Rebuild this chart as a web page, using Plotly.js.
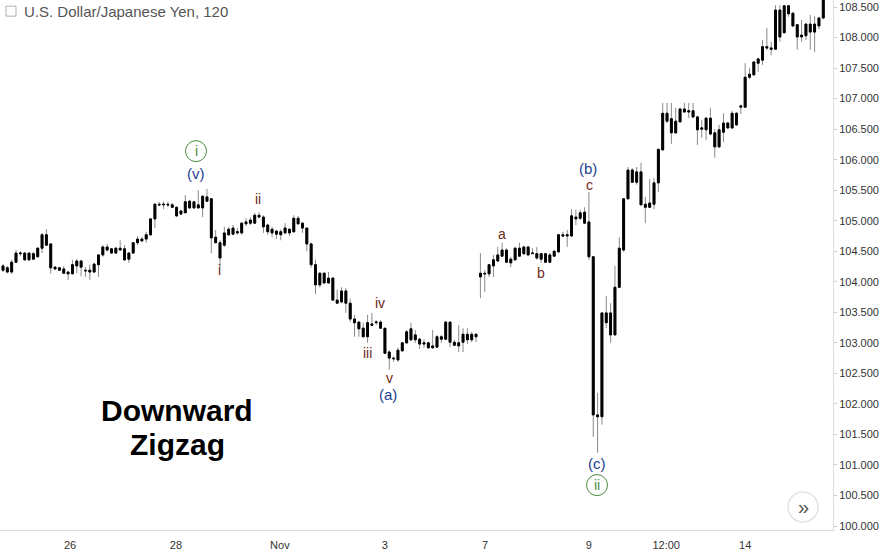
<!DOCTYPE html>
<html>
<head>
<meta charset="utf-8">
<script src="https://cdn.plot.ly/plotly-3.0.1.min.js"></script>
<style>
html,body{margin:0;padding:0;background:#fff;}
#chart{width:879px;height:555px;}
</style>
</head>
<body>
<div id="chart"></div>
<script>
// USD/JPY, 120-minute candles
const open = [
104.26,104.23,104.16,104.32,104.46,104.47,104.36,104.46,104.41,104.55,
104.77,104.62,104.24,104.19,104.21,104.16,104.13,104.26,104.34,104.19,
104.19,104.16,104.28,104.44,104.57,104.54,104.47,104.55,104.54,104.37,
104.47,104.64,104.70,104.70,104.77,105.03,105.27,105.26,105.27,105.26,
105.22,105.11,105.13,105.32,105.21,105.26,105.21,105.39,105.36,104.73,
104.64,104.60,104.77,104.88,104.80,104.80,104.95,104.96,104.96,105.09,
105.06,104.93,104.86,104.83,104.77,104.80,104.86,104.82,105.04,104.96,
104.88,104.62,104.28,103.95,104.14,103.98,104.06,103.70,103.67,103.85,
103.65,103.39,103.34,103.24,103.10,103.31,103.33,103.34,103.24,102.85,
102.75,102.72,102.87,103.00,103.23,103.05,103.06,102.98,103.00,102.92,
102.93,103.10,103.06,103.34,103.01,102.95,103.01,103.14,103.05,103.14,
104.08,104.14,104.13,104.26,104.34,104.42,104.52,104.31,104.36,104.55,
104.46,104.57,104.46,104.46,104.37,104.46,104.32,104.42,104.49,104.77,
104.75,104.75,105.06,105.04,104.96,104.98,104.41,101.82,101.79,103.49,
103.49,103.13,103.91,104.52,105.36,105.83,105.63,105.80,105.27,105.22,
105.27,105.62,106.16,106.76,106.67,106.44,106.62,106.83,106.78,106.80,
106.70,106.50,106.49,106.68,106.44,106.21,106.45,106.60,106.52,106.76,
106.86,106.86,107.35,107.39,107.58,107.63,107.85,107.83,107.81,108.45,
108.08,108.52,108.40,108.21,108.04,108.03,108.22,108.09,108.19,108.32
];
const high = [
104.29,104.26,104.36,104.52,104.50,104.49,104.47,104.49,104.57,104.80,
104.86,104.62,104.26,104.24,104.26,104.18,104.36,104.37,104.36,104.24,
104.28,104.31,104.44,104.60,104.62,104.55,104.57,104.68,104.60,104.49,
104.65,104.75,104.73,104.82,105.04,105.29,105.31,105.31,105.31,105.29,
105.24,105.18,105.42,105.34,105.32,105.50,105.42,105.52,105.37,104.85,
104.68,104.90,104.90,104.93,104.88,104.98,105.04,105.06,105.13,105.14,
105.09,104.95,104.90,104.85,104.86,104.96,104.88,105.09,105.08,104.98,
104.88,104.64,104.36,104.16,104.16,104.16,104.08,103.87,103.91,103.90,
103.72,103.46,103.34,103.33,103.46,103.49,103.37,103.37,103.24,102.88,
102.78,102.92,103.01,103.21,103.33,103.21,103.08,103.06,103.01,103.21,
103.13,103.13,103.36,103.34,103.05,103.29,103.24,103.24,103.18,103.16,
104.47,104.19,104.29,104.44,104.57,104.64,104.55,104.41,104.57,104.64,
104.59,104.59,104.55,104.57,104.47,104.47,104.47,104.52,104.78,104.82,
104.85,105.19,105.18,105.18,105.22,105.47,104.41,102.18,103.49,103.77,
103.65,104.26,104.73,105.36,105.88,105.86,105.88,105.95,105.39,105.68,
105.70,106.17,106.93,106.93,106.93,106.85,106.85,106.93,106.93,106.93,
106.72,106.65,106.70,106.85,106.50,106.57,106.76,106.62,106.80,106.78,
106.90,107.58,107.50,107.62,107.67,107.96,108.16,107.93,108.53,108.53,
108.53,108.53,108.40,108.21,108.29,108.24,108.37,108.35,108.34,108.70
];
const low = [
104.16,104.14,104.13,104.31,104.42,104.34,104.34,104.37,104.39,104.47,
104.60,104.13,104.19,104.18,104.13,104.03,104.13,104.14,104.09,104.08,
104.03,104.14,104.08,104.41,104.50,104.46,104.46,104.52,104.34,104.31,
104.46,104.60,104.65,104.64,104.75,104.88,105.24,105.19,105.22,105.21,
105.06,105.09,105.13,105.19,105.19,105.21,105.06,105.32,104.47,104.64,
104.24,104.57,104.75,104.77,104.77,104.77,104.91,104.93,104.95,105.04,
104.80,104.77,104.73,104.70,104.68,104.78,104.75,104.80,104.93,104.80,
104.50,104.23,103.80,103.91,103.98,103.98,103.69,103.64,103.65,103.49,
103.34,103.10,103.10,103.10,103.00,103.28,103.29,103.23,102.83,102.56,
102.69,102.69,102.85,102.98,103.03,103.00,102.90,102.92,102.90,102.90,
102.92,103.00,103.05,102.93,102.95,102.85,102.85,102.98,103.01,103.01,
103.73,103.83,104.08,104.08,104.32,104.41,104.31,104.24,104.34,104.41,
104.44,104.42,104.46,104.36,104.31,104.31,104.31,104.41,104.47,104.73,
104.57,104.75,104.93,105.01,104.96,104.36,101.46,101.20,101.66,103.24,
103.00,103.13,103.90,104.49,105.34,105.62,105.59,105.26,104.96,105.22,
105.19,105.47,106.16,106.60,106.26,106.42,106.60,106.78,106.68,106.68,
106.24,106.36,106.32,106.40,106.03,106.19,106.29,106.50,106.50,106.55,
106.75,106.86,107.32,107.37,107.44,107.55,107.80,107.71,107.80,107.93,
108.06,108.34,108.17,107.80,107.93,107.96,107.80,107.76,108.14,108.30
];
const close = [
104.19,104.16,104.32,104.47,104.47,104.36,104.47,104.37,104.55,104.77,
104.60,104.23,104.21,104.23,104.14,104.13,104.28,104.34,104.24,104.18,
104.16,104.29,104.44,104.57,104.52,104.47,104.55,104.52,104.36,104.47,
104.64,104.70,104.67,104.77,105.03,105.27,105.26,105.27,105.26,105.22,
105.08,105.16,105.31,105.21,105.31,105.21,105.40,105.32,104.72,104.64,
104.39,104.80,104.86,104.78,104.82,104.96,104.98,105.01,105.09,105.06,
104.90,104.82,104.80,104.78,104.82,104.88,104.80,105.04,104.95,104.88,
104.62,104.28,103.95,104.14,103.98,104.06,103.70,103.65,103.85,103.65,
103.39,103.33,103.23,103.10,103.33,103.29,103.34,103.24,102.83,102.75,
102.74,102.88,103.00,103.18,103.05,103.13,102.98,103.00,102.92,102.95,
103.10,103.06,103.34,103.01,102.96,103.00,103.14,103.05,103.14,103.10,
104.14,104.13,104.28,104.36,104.44,104.52,104.32,104.37,104.55,104.42,
104.57,104.44,104.47,104.39,104.46,104.32,104.44,104.50,104.77,104.75,
104.77,105.08,105.03,105.13,105.14,104.41,101.82,101.79,103.49,103.33,
103.13,103.91,104.55,105.36,105.83,105.63,105.80,105.26,105.22,105.29,
105.62,106.17,106.76,106.63,106.44,106.63,106.83,106.78,106.80,106.70,
106.49,106.52,106.68,106.42,106.21,106.49,106.60,106.52,106.76,106.57,
106.88,107.35,107.40,107.60,107.65,107.85,107.83,107.81,108.45,108.01,
108.52,108.39,108.19,108.01,108.01,108.22,108.09,108.22,108.32,108.66
];

// time-axis labels (candle slot where each label sits)
const xTickSlots = [15.44, 39.86, 63.8, 88.0, 111.1, 135.0, 152.8, 171.0];
const xTickLabels = ['26', '28', 'Nov', '3', '7', '9', '12:00', '14'];

// price-axis labels
const yTickValues = [100, 100.5, 101, 101.5, 102, 102.5, 103, 103.5, 104,
                     104.5, 105, 105.5, 106, 106.5, 107, 107.5, 108, 108.5];
const yTickLabels = yTickValues.map(v => v.toFixed(3));

// Elliott wave labels: [text, slot, price, kind]
const waveLabels = [
  ['i', 44.47, 106.14, 'green'],
  ['(v)', 44.47, 105.77, 'blue'],
  ['i', 49.77, 104.19, 'brown'],
  ['ii', 58.76, 105.36, 'brown'],
  ['iv', 86.87, 103.65, 'brown'],
  ['iii', 83.87, 102.83, 'brown'],
  ['v', 88.94, 102.42, 'brown'],
  ['(a)', 88.71, 102.16, 'blue'],
  ['a', 114.98, 104.78, 'brown'],
  ['b', 123.96, 104.14, 'brown'],
  ['(b)', 134.79, 105.86, 'blue'],
  ['c', 135.02, 105.585, 'brown'],
  ['(c)', 136.87, 101.03, 'blue'],
  ['ii', 136.87, 100.67, 'green']
];

const xs = open.map((_, i) => i);
const bodyHigh = open.map((o, i) => Math.max(o, close[i]));
const bodyLow = open.map((o, i) => Math.min(o, close[i]));

const FONT = 'Liberation Sans, Arial, Helvetica, sans-serif';
const colors = {green: '#4e8b3d', blue: '#1d3f91', brown: '#6e2a1c'};

const wick = {
  type: 'candlestick', x: xs, open: open, high: high, low: low, close: close,
  increasing: {line: {color: '#8a8a8a', width: 1}, fillcolor: '#8a8a8a'},
  decreasing: {line: {color: '#8a8a8a', width: 1}, fillcolor: '#8a8a8a'},
  whiskerwidth: 0, hoverinfo: 'skip', showlegend: false
};
const body = {
  type: 'candlestick', x: xs, open: open, high: bodyHigh, low: bodyLow, close: close,
  increasing: {line: {color: '#000', width: 1}, fillcolor: '#000'},
  decreasing: {line: {color: '#000', width: 1}, fillcolor: '#000'},
  whiskerwidth: 0, hoverinfo: 'skip', showlegend: false
};

const annotations = [];
const shapes = [];
waveLabels.forEach(([t, x, y, kind]) => {
  annotations.push({
    text: t, x: x, y: y, xref: 'x', yref: 'y', showarrow: false,
    xanchor: 'center', yanchor: 'middle',
    font: {family: FONT, size: kind === 'blue' ? 15 : 14, color: colors[kind]}
  });
  if (kind === 'green') {
    shapes.push({
      type: 'circle', xref: 'x', yref: 'y', xsizemode: 'pixel', ysizemode: 'pixel',
      xanchor: x, yanchor: y, x0: -10.5, x1: 10.5, y0: -10.5, y1: 10.5,
      line: {color: colors.green, width: 1}, fillcolor: 'rgba(0,0,0,0)'
    });
  }
});

// chart title
annotations.push({
  text: 'U.S. Dollar/Japanese Yen, 120', xref: 'paper', yref: 'paper',
  x: 0.0264, y: 0.979, xanchor: 'left', yanchor: 'middle', showarrow: false,
  font: {family: FONT, size: 15, color: '#555'}
});
shapes.push({
  type: 'rect', xref: 'paper', yref: 'paper', xsizemode: 'pixel', ysizemode: 'pixel',
  xanchor: 0.0132, yanchor: 0.979, x0: -5, x1: 5, y0: -5, y1: 5,
  line: {color: '#b0b0b0', width: 1}, fillcolor: 'rgba(0,0,0,0)'
});

// big caption
annotations.push({
  text: '<b>Downward</b>', xref: 'paper', yref: 'paper', x: 0.2125, y: 0.2264,
  xanchor: 'center', yanchor: 'middle', showarrow: false,
  font: {family: FONT, size: 30, color: '#000'}
});
annotations.push({
  text: '<b>Zigzag</b>', xref: 'paper', yref: 'paper', x: 0.2125, y: 0.1604,
  xanchor: 'center', yanchor: 'middle', showarrow: false,
  font: {family: FONT, size: 30, color: '#000'}
});

// scroll button
shapes.push({
  type: 'circle', xref: 'paper', yref: 'paper', xsizemode: 'pixel', ysizemode: 'pixel',
  xanchor: 0.964, yanchor: 0.0434, x0: -15, x1: 15, y0: -15, y1: 15,
  line: {color: '#e3e3e3', width: 1.5}, fillcolor: '#ffffff'
});
annotations.push({
  text: '»', xref: 'paper', yref: 'paper', x: 0.964, y: 0.0434,
  xanchor: 'center', yanchor: 'middle', showarrow: false,
  font: {family: FONT, size: 20, color: '#555'}
});

const layout = {
  width: 879, height: 555,
  margin: {l: 0, r: 46, t: 0, b: 25, pad: 0},
  paper_bgcolor: '#fff', plot_bgcolor: '#fff',
  showlegend: false,
  boxmode: 'overlay', boxgap: 0.38,
  xaxis: {
    range: [-0.69, 191.24], rangeslider: {visible: false},
    showgrid: false, zeroline: false,
    showline: true, linecolor: '#dcdcdc', linewidth: 1,
    tickmode: 'array', tickvals: xTickSlots, ticktext: xTickLabels,
    ticks: 'outside', ticklen: 5, tickcolor: 'rgba(0,0,0,0)',
    tickfont: {family: FONT, size: 11, color: '#333'}, fixedrange: true
  },
  yaxis: {
    side: 'right', range: [99.935, 108.615],
    showgrid: false, zeroline: false,
    showline: true, linecolor: '#dcdcdc', linewidth: 1,
    tickmode: 'array', tickvals: yTickValues, ticktext: yTickLabels,
    ticks: 'outside', ticklen: 3, tickcolor: '#cfcfcf',
    tickfont: {family: FONT, size: 11, color: '#333'}, fixedrange: true
  },
  annotations: annotations,
  shapes: shapes
};

Plotly.newPlot('chart', [wick, body], layout, {displayModeBar: false, staticPlot: true});
</script>
</body>
</html>
